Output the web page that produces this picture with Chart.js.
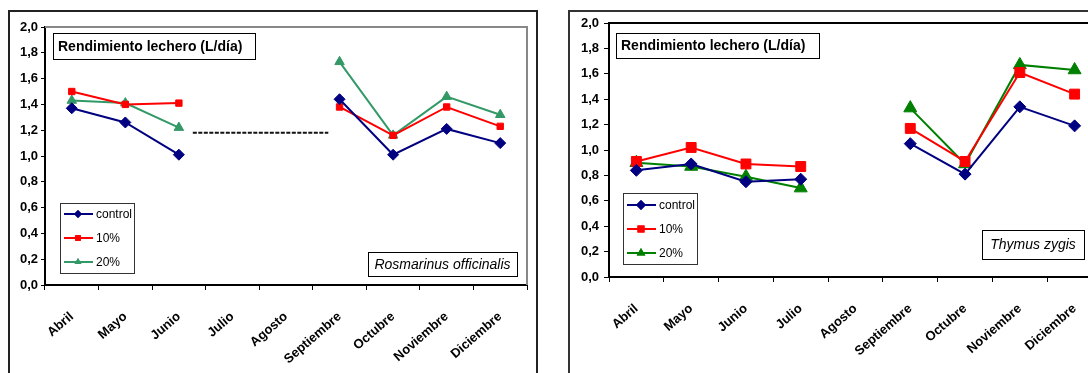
<!DOCTYPE html>
<html>
<head>
<meta charset="utf-8">
<script src="https://cdn.jsdelivr.net/npm/chart.js@4/dist/chart.umd.min.js"></script>
<style>
  html, body { margin: 0; padding: 0; background: #fff; overflow: hidden; width: 1088px; height: 373px; }
  .frame { position: absolute; border: 2px solid #222; box-sizing: border-box; }
  canvas { position: absolute; top: 0; }
</style>
</head>
<body>
<div class="frame" style="left:8px; top:10px; width:530px; height:400px;"></div>
<div class="frame" style="left:568px; top:10px; width:600px; height:400px; border-color:#333;"></div>
<canvas id="chartRos" width="548" height="373" style="left:0px;"></canvas>
<canvas id="chartThy" width="560" height="373" style="left:560px;"></canvas>
<script>
// ---- Datos ----
const meses = ["Abril", "Mayo", "Junio", "Julio", "Agosto", "Septiembre", "Octubre", "Noviembre", "Diciembre"];
const series = ["control", "10%", "20%"];
const yTicks = [0, 0.2, 0.4, 0.6, 0.8, 1.0, 1.2, 1.4, 1.6, 1.8, 2.0];

// Rosmarinus officinalis (L/día)
const rosControl = [1.37, 1.26, 1.01, null, null, 1.44, 1.01, 1.21, 1.10];
const ros10 = [1.50, 1.40, 1.41, null, null, 1.38, 1.16, 1.38, 1.23];
const ros20 = [1.43, 1.41, 1.22, null, null, 1.73, 1.16, 1.46, 1.32];
// linea discontinua entre Junio y Septiembre (indice de categoria, valor)
const rosGap = { from: 2.26, to: 4.79, value: 1.18 };

// Thymus zygis (L/día)
const thyControl = [0.84, 0.89, 0.75, 0.77, null, 1.05, 0.81, 1.34, 1.19];
const thy10 = [0.91, 1.02, 0.89, 0.87, null, 1.17, 0.91, 1.61, 1.44];
const thy20 = [0.90, 0.87, 0.79, 0.70, null, 1.33, 0.89, 1.67, 1.63];

const FONT = "'Liberation Sans', Arial, sans-serif";

// ---- Plugin: cajas de titulo, leyenda y especie ----
const boxesPlugin = {
    id: "boxes",
    beforeDatasetsDraw(chart, args, opts) {
        const ctx = chart.ctx, a = chart.chartArea;
        ctx.save();
        ctx.strokeStyle = opts.frameColor;
        ctx.lineWidth = 2;
        ctx.beginPath();
        ctx.moveTo(a.left, a.top);
        ctx.lineTo(a.right, a.top);
        ctx.lineTo(a.right, a.bottom);
        ctx.stroke();
        if (opts.gap) {
            const x = chart.scales.x, y = chart.scales.y;
            const py = y.getPixelForValue(opts.gap.value);
            ctx.strokeStyle = "#111";
            ctx.lineWidth = 2;
            ctx.setLineDash([4, 1.5]);
            ctx.beginPath();
            ctx.moveTo(x.getPixelForValue(opts.gap.from), py);
            ctx.lineTo(x.getPixelForValue(opts.gap.to), py);
            ctx.stroke();
        }
        ctx.restore();
    },
    afterDraw(chart, args, opts) {
        const ctx = chart.ctx;
        ctx.save();
        ctx.lineWidth = 1;
        ctx.strokeStyle = "#000";
        ctx.fillStyle = "#fff";

        // titulo
        const t = opts.title;
        ctx.fillRect(t.x, t.y, t.w, t.h);
        ctx.strokeRect(t.x + 0.5, t.y + 0.5, t.w, t.h);
        ctx.fillStyle = "#000";
        ctx.font = "bold 14px " + FONT;
        ctx.textBaseline = "middle";
        ctx.textAlign = "left";
        ctx.fillText("Rendimiento lechero (L/día)", t.x + 5, t.y + t.h / 2 + 1);

        // especie
        const s = opts.species;
        ctx.fillStyle = "#fff";
        ctx.fillRect(s.x, s.y, s.w, s.h);
        ctx.strokeRect(s.x + 0.5, s.y + 0.5, s.w, s.h);
        ctx.fillStyle = "#000";
        ctx.font = "italic 14px " + FONT;
        ctx.textAlign = "center";
        ctx.fillText(s.text, s.x + s.w / 2, s.y + s.h / 2 + 1);

        // leyenda
        const l = opts.legend;
        ctx.fillStyle = "#fff";
        ctx.fillRect(l.x, l.y, l.w, l.h);
        ctx.strokeStyle = "#333";
        ctx.strokeRect(l.x + 0.5, l.y + 0.5, l.w, l.h);
        ctx.font = "12px " + FONT;
        ctx.textAlign = "left";
        chart.data.datasets.forEach((ds, i) => {
            const ry = l.y + l.first + i * l.step;
            ctx.strokeStyle = ds.borderColor;
            ctx.lineWidth = 2;
            ctx.beginPath();
            ctx.moveTo(l.x + 4, ry);
            ctx.lineTo(l.x + 33, ry);
            ctx.stroke();
            ctx.fillStyle = ds.borderColor;
            ctx.beginPath();
            Chart.helpers.drawPoint(ctx, { pointStyle: ds.pointStyle, radius: l.markR, borderWidth: 0 }, l.x + 18, ry);
            ctx.fill();
            ctx.fillStyle = "#000";
            ctx.fillText(series[i], l.x + 36, ry + 1);
        });
        ctx.restore();
    }
};

function makeChart(id, data, colors, sizes, lay, boxOpts) {
    const styles = ["rectRot", "rect", "triangle"];
    return new Chart(document.getElementById(id), {
        type: "line",
        data: {
            labels: meses,
            datasets: data.map((d, i) => ({
                label: series[i],
                data: d,
                borderColor: colors[i],
                backgroundColor: colors[i],
                pointBackgroundColor: colors[i],
                pointBorderColor: colors[i],
                pointStyle: styles[i],
                pointRadius: sizes[i],
                pointBorderWidth: 1,
                borderWidth: 2,
                tension: 0,
                spanGaps: false
            }))
        },
        options: {
            responsive: false,
            animation: false,
            layout: { padding: { top: lay.top, right: lay.right, left: 0, bottom: 0 } },
            plugins: {
                legend: { display: false },
                tooltip: { enabled: false },
                boxes: boxOpts
            },
            scales: {
                x: {
                    offset: true,
                    afterFit: s => { s.height = lay.xh; },
                    border: { display: true, color: "#000", width: 2 },
                    grid: { display: true, drawOnChartArea: false, drawTicks: true, tickLength: 5, color: "#000", offset: true },
                    ticks: {
                        autoSkip: false, maxRotation: 41, minRotation: 41, padding: 19,
                        color: "#000", font: { family: FONT, size: 13, weight: "bold" }
                    }
                },
                y: {
                    min: 0, max: 2,
                    afterFit: s => { s.width = lay.yw; },
                    afterBuildTicks: s => { s.ticks = yTicks.map(v => ({ value: v })); },
                    border: { display: true, color: "#000", width: 2 },
                    grid: { display: true, drawOnChartArea: false, drawTicks: true, tickLength: lay.tick, color: "#000" },
                    ticks: {
                        padding: lay.pad, color: "#000",
                        font: { family: FONT, size: 13, weight: "bold" },
                        callback: v => v.toFixed(1).replace(".", ",")
                    }
                }
            }
        },
        plugins: [boxesPlugin]
    });
}

makeChart("chartRos",
    [rosControl, ros10, ros20],
    ["#000080", "#FF0000", "#339966"],
    [5.5, 4.5, 5.5],
    { top: 27, right: 21, xh: 88, yw: 45, tick: 4, pad: 3 },
    {
        frameColor: "#888",
        gap: rosGap,
        title: { x: 53, y: 33, w: 202, h: 26 },
        species: { x: 368, y: 252, w: 149, h: 24, text: "Rosmarinus officinalis" },
        legend: { x: 60, y: 203, w: 74, h: 70, first: 11, step: 24, markR: 4 }
    });

makeChart("chartThy",
    [thyControl, thy10, thy20],
    ["#000080", "#FF0000", "#008000"],
    [6, 7, 7.5],
    { top: 23, right: 18, xh: 96, yw: 49, tick: 5, pad: 5 },
    {
        frameColor: "#000",
        gap: null,
        title: { x: 56, y: 33, w: 203, h: 25 },
        species: { x: 422, y: 230, w: 102, h: 29, text: "Thymus zygis" },
        legend: { x: 63, y: 193, w: 74, h: 71, first: 12, step: 24, markR: 5 }
    });
</script>
</body>
</html>
